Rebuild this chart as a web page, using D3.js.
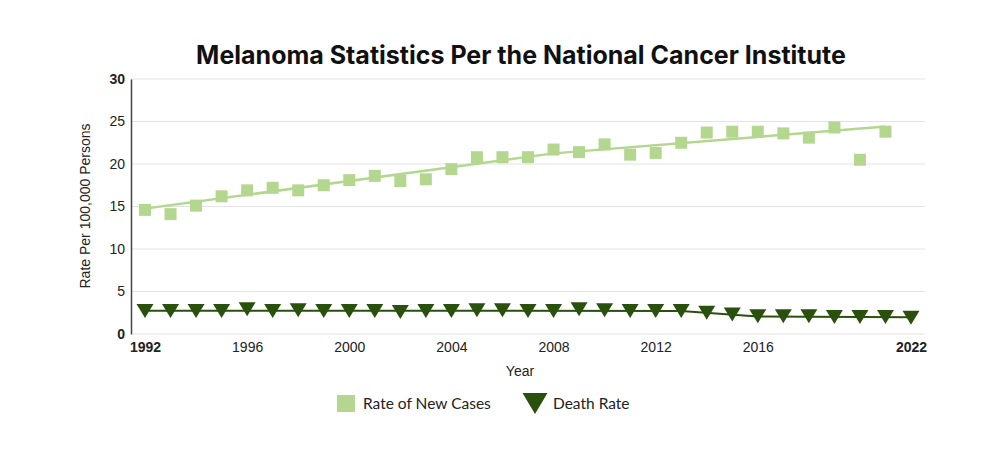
<!DOCTYPE html>
<html lang="en">
<head>
    <meta charset="UTF-8">
    <title>Melanoma Statistics</title>
    <script src="https://d3js.org/d3.v7.min.js"></script>
    <style>
        body { margin: 0; background: #fff; }
    </style>
</head>
<body>
    <div id="chart"></div>
    <script>
        // data
        const years = d3.range(1992, 2023);
        const newCases = [14.6, 14.1, 15.1, 16.2, 16.9, 17.2, 16.9, 17.5, 18.1, 18.6,
            18.0, 18.2, 19.4, 20.8, 20.8, 20.8, 21.7, 21.4, 22.3, 21.1,
            21.3, 22.5, 23.7, 23.8, 23.8, 23.6, 23.1, 24.3, 20.5, 23.8];
        const deathRate = [2.7, 2.7, 2.7, 2.7, 2.9, 2.7, 2.8, 2.7, 2.7, 2.7,
            2.6, 2.7, 2.7, 2.8, 2.8, 2.7, 2.7, 2.9, 2.8, 2.7,
            2.7, 2.7, 2.5, 2.3, 2.1, 2.1, 2.1, 2.0, 2.0, 2.0, 1.9];
        // joinpoint trend lines
        const newCasesTrend = [[1992, 14.75], [2008, 21.25], [2021, 24.4]];
        const deathTrend = [[1992, 2.74], [2013, 2.72], [2016, 2.05], [2022, 1.98]];
        const xTicks = [1992, 1996, 2000, 2004, 2008, 2012, 2016, 2022];
        const yTicks = [0, 5, 10, 15, 20, 25, 30];

        const width = 1004, height = 463;
        const lightGreen = "#b4d78f", darkGreen = "#2a500d";
        const axisFont = "'Liberation Sans', Arial, sans-serif";

        const svg = d3.select("#chart").append("svg")
            .attr("width", width)
            .attr("height", height);

        const x = d3.scaleLinear().domain([1992, 2022]).range([145, 911]);
        const y = d3.scaleLinear().domain([0, 30]).range([334, 79]);
        const plotLeft = 131, plotRight = 925;

        // title
        svg.append("text")
            .attr("x", 521).attr("y", 64)
            .attr("text-anchor", "middle")
            .style("font-family", "Inter, sans-serif")
            .style("font-weight", 700)
            .style("font-size", "25px")
            .attr("fill", "#111")
            .text("Melanoma Statistics Per the National Cancer Institute");

        // gridlines
        svg.append("g")
            .selectAll("line")
            .data(yTicks)
            .join("line")
            .attr("x1", plotLeft).attr("x2", plotRight)
            .attr("y1", d => y(d)).attr("y2", d => y(d))
            .attr("stroke", "#e3e3e3")
            .attr("stroke-width", 1.2);

        // y axis
        const yAxis = svg.append("g")
            .attr("transform", `translate(${plotLeft},0)`)
            .call(d3.axisLeft(y).tickValues(yTicks).tickSize(0).tickPadding(6))
            .call(g => g.select(".domain").attr("stroke", "#444").attr("stroke-width", 1.5));
        yAxis.selectAll("text")
            .style("font-family", axisFont)
            .style("font-size", "14px")
            .style("font-weight", d => (d === 0 || d === 30) ? 700 : 400)
            .attr("fill", "#222");

        // x axis
        const xAxis = svg.append("g")
            .attr("transform", `translate(0,${y(0)})`)
            .call(d3.axisBottom(x).tickValues(xTicks).tickFormat(d3.format("d")).tickSize(0).tickPadding(8))
            .call(g => g.select(".domain").remove());
        xAxis.selectAll("text")
            .style("font-family", axisFont)
            .style("font-size", "14px")
            .style("font-weight", d => (d === 1992 || d === 2022) ? 700 : 400)
            .attr("fill", "#222");

        // axis titles
        svg.append("text")
            .attr("x", 520).attr("y", 376)
            .attr("text-anchor", "middle")
            .style("font-family", axisFont)
            .style("font-size", "14px")
            .attr("fill", "#222")
            .text("Year");

        svg.append("text")
            .attr("transform", "translate(90,206) rotate(-90)")
            .attr("text-anchor", "middle")
            .style("font-family", axisFont)
            .style("font-size", "14px")
            .attr("fill", "#222")
            .text("Rate Per 100,000 Persons");

        const line = d3.line().x(d => x(d[0])).y(d => y(d[1]));

        // trend lines
        svg.append("path")
            .datum(newCasesTrend)
            .attr("d", line)
            .attr("fill", "none")
            .attr("stroke", lightGreen)
            .attr("stroke-width", 2.5);

        svg.append("path")
            .datum(deathTrend)
            .attr("d", line)
            .attr("fill", "none")
            .attr("stroke", darkGreen)
            .attr("stroke-width", 2);

        // new case squares
        const sq = 12;
        svg.append("g")
            .selectAll("rect")
            .data(newCases)
            .join("rect")
            .attr("x", (d, i) => x(years[i]) - sq / 2)
            .attr("y", d => y(d) - sq / 2)
            .attr("width", sq).attr("height", sq)
            .attr("fill", lightGreen);

        // death rate triangles (pointing down)
        const tri = (w, h) => `M${-w / 2},${-h / 2}L${w / 2},${-h / 2}L0,${h / 2}Z`;
        svg.append("g")
            .selectAll("path")
            .data(deathRate)
            .join("path")
            .attr("transform", (d, i) => `translate(${x(years[i])},${y(d)})`)
            .attr("d", tri(17, 14))
            .attr("fill", darkGreen);

        // legend
        const legend = svg.append("g")
            .style("font-family", "Lato, sans-serif")
            .style("font-size", "15.5px")
            .attr("fill", "#222");
        legend.append("rect")
            .attr("x", 337).attr("y", 395)
            .attr("width", 18).attr("height", 17)
            .attr("fill", lightGreen);
        legend.append("text")
            .attr("x", 363).attr("y", 409)
            .text("Rate of New Cases");
        legend.append("path")
            .attr("transform", "translate(535,403.5)")
            .attr("d", tri(25, 21))
            .attr("fill", darkGreen);
        legend.append("text")
            .attr("x", 553).attr("y", 409)
            .text("Death Rate");
    </script>
</body>
</html>
